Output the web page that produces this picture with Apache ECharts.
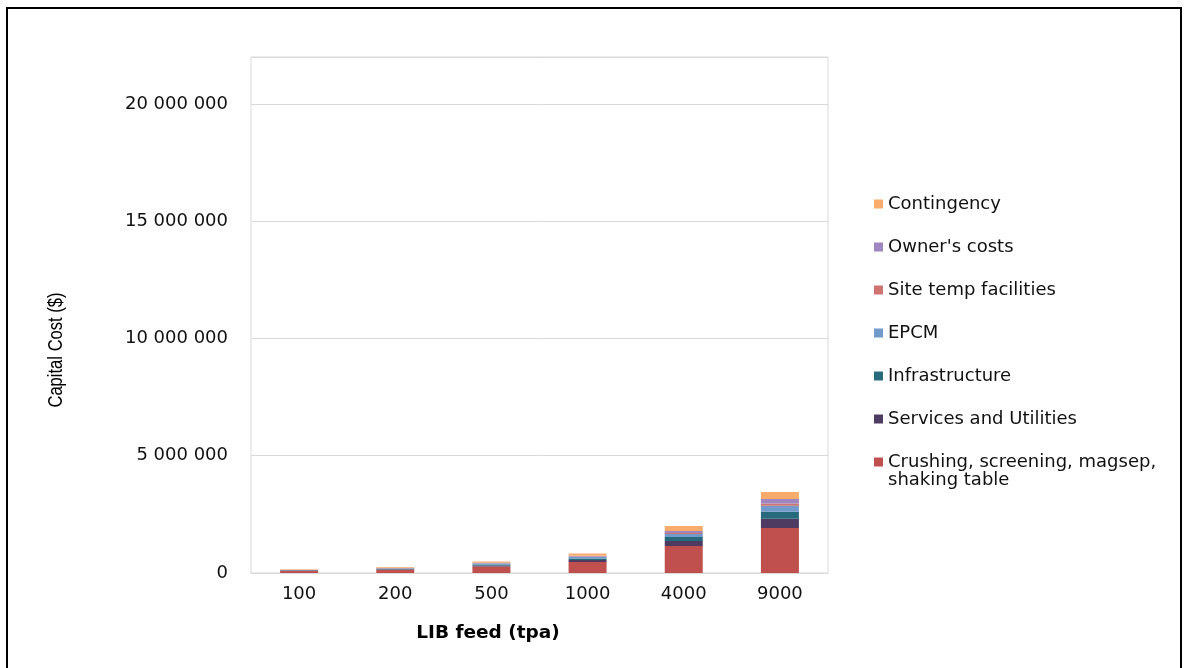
<!DOCTYPE html>
<html>
<head>
<meta charset="utf-8">
<title>Capital Cost by LIB feed</title>
<script src="https://cdn.jsdelivr.net/npm/echarts@6/dist/echarts.min.js"></script>
<style>
  html, body { margin: 0; padding: 0; background: #fff; }
  #chart { width: 1186px; height: 668px; }
</style>
</head>
<body>
<div id="chart"></div>
<script>
// Plant throughput categories (tonnes per annum)
const categories = ['100', '200', '500', '1000', '4000', '9000'];

// Capital cost components, $ (stacked bottom to top)
const crushing       = [90000, 140000, 280000, 470000, 1150000, 1920000];
const services       = [15000, 25000, 45000, 80000, 210000, 390000];
const infrastructure = [13000, 20000, 40000, 70000, 170000, 300000];
const epcm           = [12000, 20000, 35000, 60000, 130000, 260000];
const siteTemp       = [5000, 8000, 10000, 20000, 45000, 90000];
const owners         = [8000, 15000, 25000, 40000, 85000, 200000];
const contingency    = [20000, 30000, 55000, 90000, 210000, 290000];

const seriesNames = [
  'Crushing, screening, magsep, shaking table',
  'Services and Utilities',
  'Infrastructure',
  'EPCM',
  'Site temp facilities',
  "Owner's costs",
  'Contingency'
];
const seriesData = [crushing, services, infrastructure, epcm, siteTemp, owners, contingency];
const seriesColors = ['#c0504d', '#4d3b62', '#276a7c', '#729aca', '#cd7371', '#9e86c0', '#f9ab6b'];

const FONT = 'DejaVu Sans';
const TEXT = '#111111';
const SIZE = 18;

function spaced(v) {
  return String(v).replace(/\B(?=(\d{3})+(?!\d))/g, ' ');
}

const chart = echarts.init(document.getElementById('chart'), null, { renderer: 'canvas' });

chart.setOption({
  backgroundColor: '#ffffff',
  animation: false,
  grid: {
    left: 251, top: 57, width: 577, height: 516,
    show: true, borderColor: '#d9d9d9', borderWidth: 1, backgroundColor: 'transparent'
  },
  xAxis: {
    type: 'category',
    data: categories,
    axisLine: { show: true, lineStyle: { color: '#d9d9d9', width: 1 } },
    axisTick: { show: false },
    axisLabel: { color: TEXT, fontFamily: FONT, fontSize: SIZE, margin: 12 }
  },
  yAxis: {
    type: 'value',
    min: 0, max: 22000000, interval: 5000000,
    axisLine: { show: false },
    axisTick: { show: false },
    splitLine: { show: true, lineStyle: { color: '#d9d9d9', width: 1 } },
    axisLabel: {
      color: TEXT, fontFamily: FONT, fontSize: SIZE, margin: 23,
      formatter: function (v) { return v > 20000000 ? '' : spaced(v); }
    }
  },
  legend: {
    orient: 'vertical',
    left: 869, top: 189,
    itemWidth: 9, itemHeight: 9,
    itemGap: 23,
    icon: 'rect',
    data: seriesNames.slice().reverse(),
    textStyle: { color: TEXT, fontFamily: FONT, fontSize: SIZE, lineHeight: 20 },
    formatter: function (name) {
      return name.indexOf('Crushing') === 0 ? 'Crushing, screening, magsep,' : name;
    }
  },
  series: seriesNames.map(function (name, i) {
    return {
      name: name,
      type: 'bar',
      stack: 'capex',
      barWidth: 38,
      data: seriesData[i],
      itemStyle: { color: seriesColors[i] },
      emphasis: { disabled: true }
    };
  }),
  graphic: [
    {
      type: 'rect',
      shape: { x: 7, y: 8, width: 1174, height: 680 },
      style: { fill: 'none', stroke: '#000', lineWidth: 2 },
      silent: true
    },
    {
      type: 'text',
      x: 888, y: 480,
      style: { text: 'shaking table', fill: TEXT, font: SIZE + 'px "DejaVu Sans"', textAlign: 'left', textVerticalAlign: 'middle' },
      silent: true
    },
    {
      type: 'text',
      x: 488, y: 633,
      style: { text: 'LIB feed (tpa)', fill: '#000', font: 'bold 18.5px "DejaVu Sans"', textAlign: 'center', textVerticalAlign: 'middle' },
      silent: true
    },
    {
      type: 'text',
      x: 57, y: 350,
      rotation: Math.PI / 2,
      scaleX: 0.85,
      style: { text: 'Capital Cost ($)', fill: '#000', font: '19.5px "Liberation Sans"', textAlign: 'center', textVerticalAlign: 'middle' },
      silent: true
    }
  ]
});
</script>
</body>
</html>
